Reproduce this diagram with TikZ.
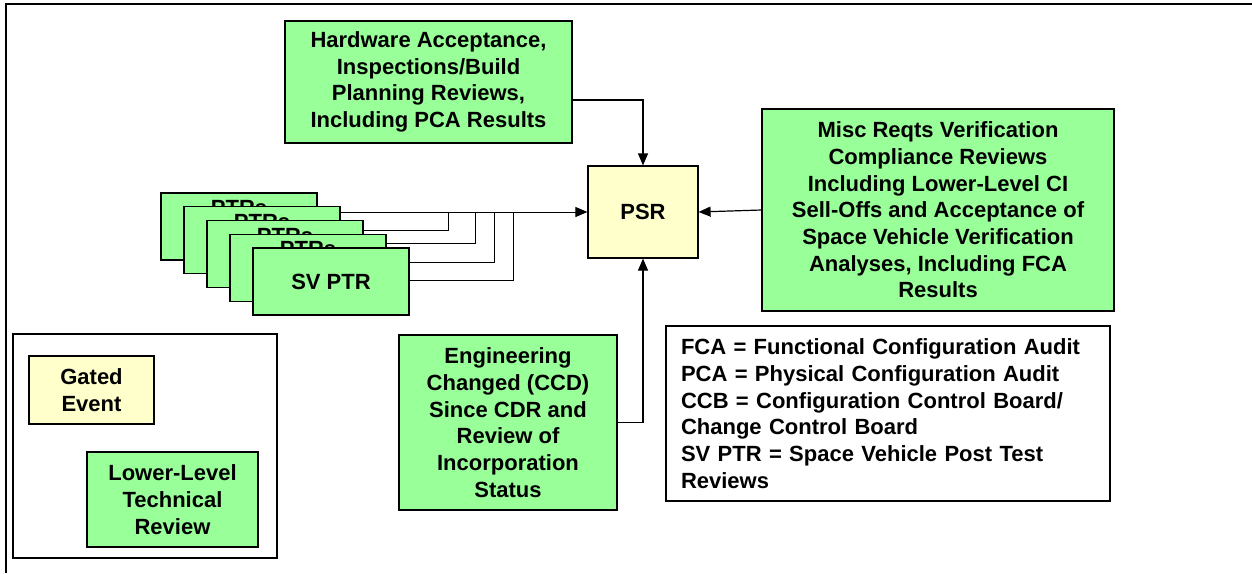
\documentclass[tikz,border=0pt]{standalone}
\usepackage{fontspec}
\setmainfont{Liberation Sans}
\usetikzlibrary{arrows.meta,positioning,backgrounds}
\definecolor{revgreen}{HTML}{99FF99}
\definecolor{gateyellow}{HTML}{FFFFCC}

\begin{document}
\begin{tikzpicture}[
    x=0.5pt, y=-0.5pt,
    line width=0.6pt,
    font=\fontsize{11}{13.35}\selectfont\bfseries,
    every node/.style={draw, line width=0.6pt, align=center, inner sep=0pt},
    review/.style={fill=revgreen},
    gate/.style={fill=gateyellow},
    >={Triangle[length=6pt,width=5pt]}
  ]
    \useasboundingbox (0,0) rectangle (1252,573);
    \draw[line width=1pt] (1252,4) -- (6,4) -- (6,573);

    \node[review, minimum width=143.5pt, minimum height=61pt] (hw) at (428.5,82) {Hardware Acceptance,\\Inspections/Build\\Planning Reviews,\\Including PCA Results};
    \node[gate, minimum width=55pt, minimum height=46pt] (psr) at (643,212) {PSR};
    \node[review, minimum width=176pt, minimum height=101pt] (misc) at (938,210) {Misc Reqts Verification\\Compliance Reviews\\Including Lower-Level CI\\Sell-Offs and Acceptance of\\Space Vehicle Verification\\Analyses, Including FCA\\Results};

    % stack of post test reviews
    \foreach \i in {1,...,4}
      \node[review, minimum width=78pt, minimum height=33.5pt, text height=7.6pt, text depth=18.5pt]
        (ptr\i) at ({239+23*(\i-1)},{226.5+13.75*(\i-1)}) {PTRs};
    \node[review, minimum width=78pt, minimum height=33.5pt] (ptr5) at (331,281.5) {SV PTR};

    \node[review, minimum width=109pt, minimum height=87.5pt] (eng) at (508,422.5) {Engineering\\Changed (CCD)\\Since CDR and\\Review of\\Incorporation\\Status};
    \node[minimum width=222pt, minimum height=87.5pt, text width=207pt, align=left] (abbrev) at (888,413.5) {FCA = Functional Configuration Audit\\PCA = Physical Configuration Audit\\CCB = Configuration Control Board/\\Change Control Board\\SV PTR = Space Vehicle Post Test\\Reviews};

    % key
    \node[minimum width=132pt, minimum height=112pt] (keyframe) at (145,446) {};
    \node[gate, minimum width=62.5pt, minimum height=34pt] (gated) at (91.5,390) {Gated\\Event};
    \node[review, minimum width=85.5pt, minimum height=47.5pt] (lower) at (172.5,499.5) {Lower-Level\\Technical\\Review};

    \coordinate (j2) at (448,212);
    \coordinate (j3) at (475,212);
    \coordinate (j4) at (494,212);
    \coordinate (j5) at (513,212);

    \begin{scope}[on background layer]
      \draw[->] (ptr1.east |- psr.west) -- (psr.west);
      \draw ([yshift=5.1pt]ptr2.east) -| (j2);
      \draw ([yshift=5.5pt]ptr3.east) -| (j3);
      \draw ([yshift=2.9pt]ptr4.east) -| (j4);
      \draw ([yshift=0.75pt]ptr5.east) -| (j5);
    \end{scope}

    \draw[->] ([yshift=-9pt]hw.east) -| (psr.north);
    \draw[->] (misc.west) -- (psr.east);
    \draw[->] (eng.east) -| (psr.south);
  \end{tikzpicture}
\end{document}
